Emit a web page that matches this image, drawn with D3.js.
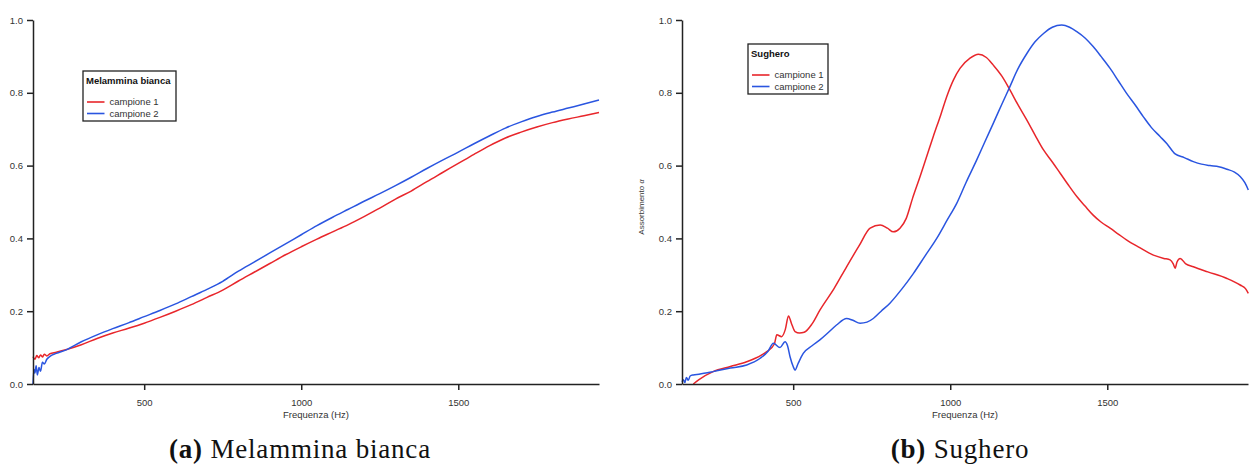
<!DOCTYPE html>
<html lang="it">
<head>
<meta charset="UTF-8">
<title>Assorbimento - Melammina bianca / Sughero</title>
<script src="https://cdnjs.cloudflare.com/ajax/libs/d3/7.8.5/d3.min.js"></script>
<style>
    body { margin: 0; background: #fff; }
    svg { display: block; }
    .axis path, .axis line { stroke: #222; stroke-width: 1.5; }
    .axis text { font-family: 'Liberation Sans', Arial, sans-serif; font-size: 9.5px; fill: #333; }
    .axis-title { font-family: 'Liberation Sans', Arial, sans-serif; font-size: 9.5px; fill: #333; }
    .legend-title { font-family: 'Liberation Sans', Arial, sans-serif; font-size: 9.5px; font-weight: bold; fill: #111; }
    .legend-text { font-family: 'Liberation Sans', Arial, sans-serif; font-size: 9.5px; fill: #333; }
    .caption { font-family: 'Liberation Serif', 'DejaVu Serif', serif; font-size: 27px; letter-spacing: 0.8px; fill: #111; }
    .series { fill: none; stroke-width: 1.5; stroke-linejoin: round; }
</style>
</head>
<body>
<div id="chart"></div>
<script>
// --- data ---
const seriesNames = ["campione 1", "campione 2"];
const colors = ["#e8262b", "#2a55e0"];
const yTicks = [0, 0.2, 0.4, 0.6, 0.8, 1.0];
const xTicks = [500, 1000, 1500];

// (a) Melammina bianca
const melFreq1 = [146,152,158,164,170,176,182,190,200,220,250,300,350,400,450,500,550,600,650,700,750,800,850,900,950,1000,1050,1100,1150,1200,1250,1300,1350,1400,1450,1500,1550,1600,1650,1700,1750,1800,1850,1900,1948];
const melVal1  = [0.075,0.068,0.078,0.072,0.080,0.074,0.082,0.077,0.083,0.087,0.094,0.108,0.125,0.140,0.153,0.167,0.183,0.200,0.218,0.238,0.258,0.283,0.307,0.331,0.355,0.377,0.398,0.418,0.438,0.460,0.483,0.508,0.530,0.556,0.581,0.606,0.631,0.655,0.676,0.692,0.706,0.718,0.728,0.737,0.746];
const melFreq2 = [146,149,152,156,160,165,170,176,182,190,200,220,250,300,350,400,450,500,550,600,650,700,750,800,850,900,950,1000,1050,1100,1150,1200,1250,1300,1350,1400,1450,1500,1550,1600,1650,1700,1750,1800,1850,1900,1948];
const melVal2  = [0.000,0.040,0.030,0.050,0.025,0.045,0.035,0.060,0.055,0.068,0.076,0.084,0.093,0.116,0.135,0.152,0.168,0.185,0.202,0.220,0.240,0.260,0.282,0.310,0.335,0.360,0.385,0.410,0.435,0.458,0.480,0.502,0.523,0.545,0.568,0.592,0.615,0.637,0.660,0.682,0.703,0.720,0.735,0.747,0.758,0.769,0.780];

// (b) Sughero
const sugFreq1 = [182,200,245,300,352,400,416,440,448,463,475,485,495,506,520,535,560,585,630,670,710,745,777,800,819,840,860,880,904,925,946,970,989,1010,1031,1063,1090,1115,1137,1165,1190,1215,1244,1270,1297,1325,1350,1375,1403,1430,1455,1480,1509,1535,1561,1600,1647,1680,1700,1710,1716,1722,1732,1750,1774,1820,1881,1923,1940,1949];
const sugVal1  = [0.000,0.012,0.034,0.048,0.061,0.080,0.089,0.110,0.135,0.130,0.150,0.187,0.165,0.144,0.140,0.142,0.165,0.203,0.262,0.322,0.380,0.428,0.437,0.428,0.418,0.428,0.455,0.510,0.570,0.625,0.680,0.740,0.790,0.835,0.867,0.895,0.906,0.897,0.876,0.845,0.808,0.768,0.725,0.684,0.643,0.610,0.579,0.548,0.515,0.488,0.464,0.445,0.428,0.412,0.396,0.376,0.354,0.345,0.341,0.330,0.318,0.335,0.345,0.330,0.322,0.308,0.290,0.272,0.262,0.249];
const sugFreq2 = [146,150,155,160,166,172,182,200,245,300,352,394,420,437,458,474,482,490,500,506,515,532,560,585,610,638,670,690,713,735,755,780,808,845,883,920,957,990,1021,1050,1084,1110,1137,1165,1190,1215,1244,1270,1297,1325,1355,1380,1403,1430,1455,1480,1509,1535,1561,1590,1615,1640,1668,1690,1716,1745,1774,1800,1827,1855,1881,1905,1923,1938,1949];
const sugVal2  = [0.006,0.012,0.004,0.018,0.010,0.022,0.025,0.027,0.034,0.044,0.052,0.070,0.090,0.112,0.100,0.116,0.105,0.075,0.048,0.038,0.055,0.084,0.105,0.121,0.140,0.162,0.180,0.175,0.167,0.170,0.180,0.200,0.222,0.260,0.304,0.352,0.400,0.450,0.497,0.553,0.615,0.665,0.716,0.770,0.817,0.865,0.908,0.940,0.963,0.980,0.986,0.980,0.968,0.950,0.927,0.900,0.867,0.833,0.799,0.765,0.734,0.705,0.680,0.660,0.632,0.622,0.611,0.604,0.600,0.597,0.590,0.582,0.570,0.553,0.533];

const panels = [
    { left: 33, title: "Melammina bianca", caption: "Melammina bianca", tag: "(a)", capX: 300,
      legendX: 83, legendY: 71, legendW: 93, showYLabel: false,
      series: [[melFreq1, melVal1], [melFreq2, melVal2]] },
    { left: 682, title: "Sughero", caption: "Sughero", tag: "(b)", capX: 960,
      legendX: 748, legendY: 44, legendW: 80, showYLabel: true,
      series: [[sugFreq1, sugVal1], [sugFreq2, sugVal2]] }
];

const W = 1256, H = 466;
const plotW = 566, plotTop = 20, plotBottom = 384;

const svg = d3.select("#chart").append("svg")
    .attr("width", W)
    .attr("height", H);

panels.forEach(p => {
    const x = d3.scaleLinear().domain([146, 1948]).range([p.left, p.left + plotW]);
    const y = d3.scaleLinear().domain([0, 1]).range([plotBottom, plotTop]);
    const g = svg.append("g");

    // curves
    const line = d3.line().curve(d3.curveMonotoneX).x(d => x(d[0])).y(d => y(d[1]));
    p.series.forEach((s, i) => {
        const pts = s[0].map((f, k) => [f, s[1][k]]);
        g.append("path")
            .attr("class", "series")
            .attr("stroke", colors[i])
            .attr("d", line(pts));
    });

    // axes
    g.append("g")
        .attr("class", "axis")
        .attr("transform", `translate(${p.left},0)`)
        .call(d3.axisLeft(y).tickValues(yTicks).tickFormat(d3.format(".1f"))
            .tickSize(6).tickSizeOuter(0).tickPadding(4));

    g.append("g")
        .attr("class", "axis")
        .attr("transform", `translate(0,${plotBottom})`)
        .call(d3.axisBottom(x).tickValues(xTicks).tickFormat(d3.format("d"))
            .tickSize(6).tickSizeOuter(0).tickPadding(9));

    // x title
    g.append("text")
        .attr("class", "axis-title")
        .attr("x", p.left + plotW / 2)
        .attr("y", 418)
        .attr("text-anchor", "middle")
        .text("Frequenza (Hz)");

    if (p.showYLabel) {
        const t = g.append("text")
            .attr("class", "axis-title")
            .attr("transform", `translate(${p.left - 38},207) rotate(-90)`)
            .attr("text-anchor", "middle")
            .style("font-size", "8px");
        t.append("tspan").text("Assorbimento ");
        t.append("tspan").style("font-style", "italic").style("font-family", "'Liberation Serif', serif").text("α");
    }

    // legend
    const lg = g.append("g").attr("transform", `translate(${p.legendX},${p.legendY})`);
    lg.append("rect")
        .attr("width", p.legendW)
        .attr("height", 50)
        .attr("fill", "#fff")
        .attr("stroke", "#222")
        .attr("stroke-width", 1.3);
    lg.append("text")
        .attr("class", "legend-title")
        .attr("x", 3)
        .attr("y", 12.5)
        .text(p.title);
    seriesNames.forEach((name, i) => {
        const yy = 31 + i * 11.5;
        lg.append("line")
            .attr("x1", 4).attr("x2", 21.5)
            .attr("y1", yy).attr("y2", yy)
            .attr("stroke", colors[i])
            .attr("stroke-width", 1.6);
        lg.append("text")
            .attr("class", "legend-text")
            .attr("x", 26.5)
            .attr("y", yy + 3.4)
            .text(name);
    });

    // caption
    const cap = svg.append("text")
        .attr("class", "caption")
        .attr("x", p.capX)
        .attr("y", 458)
        .attr("text-anchor", "middle");
    cap.append("tspan").style("font-weight", "bold").text(p.tag);
    cap.append("tspan").text(" " + p.caption);
});
</script>
</body>
</html>
